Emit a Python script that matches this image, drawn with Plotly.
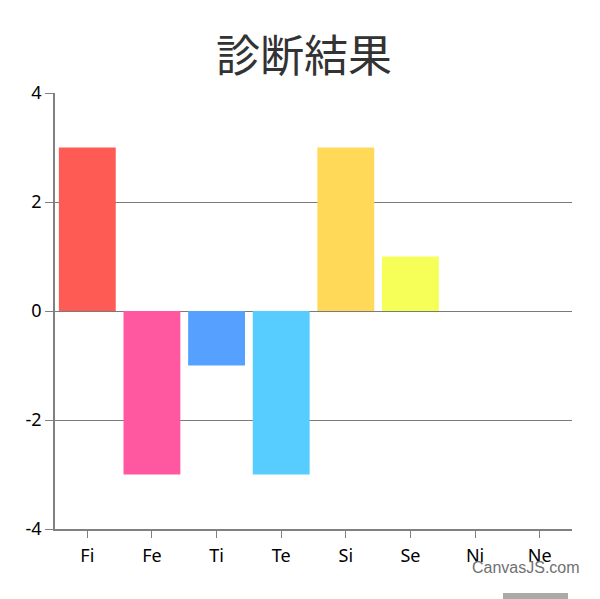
import plotly.graph_objects as go

categories = ["Fi", "Fe", "Ti", "Te", "Si", "Se", "Ni", "Ne"]
values = [3, -3, -1, -3, 3, 1, 0, 0]
colors = ["#FF5B55", "#FF57A0", "#56A1FF", "#57CCFF", "#FFD957", "#F5FF57", "#CCCCCC", "#CCCCCC"]
y_ticks = [-4, -2, 0, 2, 4]
y_tick_text = ["-4", "-2", "0", "2", "4"]
title_text = "診断結果"

fig = go.Figure(go.Bar(
    x=list(range(len(categories))), y=values,
    marker=dict(color=colors, line=dict(width=0)),
    width=0.88,
    hoverinfo="x+y",
))

# page body has an 8px margin; compensate so the plot sits where the reference does
OFF = 8
W, H = 600 - OFF, 599 - OFF
L, R, T, B = 55 - OFF, 28, 93 - OFF, 70
PW, PH = W - L - R, H - T - B
def py(page_y):  # page y pixel -> paper y
    return ((H - B) - (page_y - OFF)) / PH
def px(page_x):
    return ((page_x - OFF) - L) / PW

tick_font = dict(family="Noto Sans", size=18, color="black")

fig.update_layout(
    width=W, height=H,
    margin=dict(l=L, r=R, t=T, b=B),
    paper_bgcolor="white", plot_bgcolor="white",
    showlegend=False,
    title=dict(text=title_text, x=0.5, xanchor="center", y=1 - (57 - OFF) / H, yanchor="middle",
               font=dict(family="Noto Sans CJK JP", size=44, color="#333333")),
    xaxis=dict(
        range=[-0.5, 7.5], tickmode="array", tickvals=list(range(len(categories))),
        ticktext=categories, ticks="outside", ticklen=7, tickcolor="#808080",
        ticklabelstandoff=3,
        showgrid=False, zeroline=False, showline=True, linecolor="#808080", linewidth=1.5,
        tickfont=tick_font,
    ),
    yaxis=dict(
        range=[-4, 4], tickmode="array", tickvals=y_ticks, ticktext=y_tick_text,
        ticks="outside", ticklen=8,
        tickcolor="#808080", showgrid=True, gridcolor="#7a7a7a", gridwidth=1.2,
        zeroline=True, zerolinecolor="#7a7a7a", zerolinewidth=1.2,
        showline=True, linecolor="#808080", linewidth=1.5,
        tickfont=tick_font,
    ),
    annotations=[dict(text="CanvasJS.com", xref="paper", yref="paper",
                      x=px(582), y=py(567),
                      xanchor="right", yanchor="middle", showarrow=False,
                      font=dict(family="Liberation Sans", size=16, color="#707070"))],
    shapes=[dict(type="rect", xref="paper", yref="paper",
                 x0=px(503), x1=px(568), y0=py(599), y1=py(593),
                 fillcolor="#AAAAAA", line=dict(width=0))],
)

fig.write_html("out.html")
